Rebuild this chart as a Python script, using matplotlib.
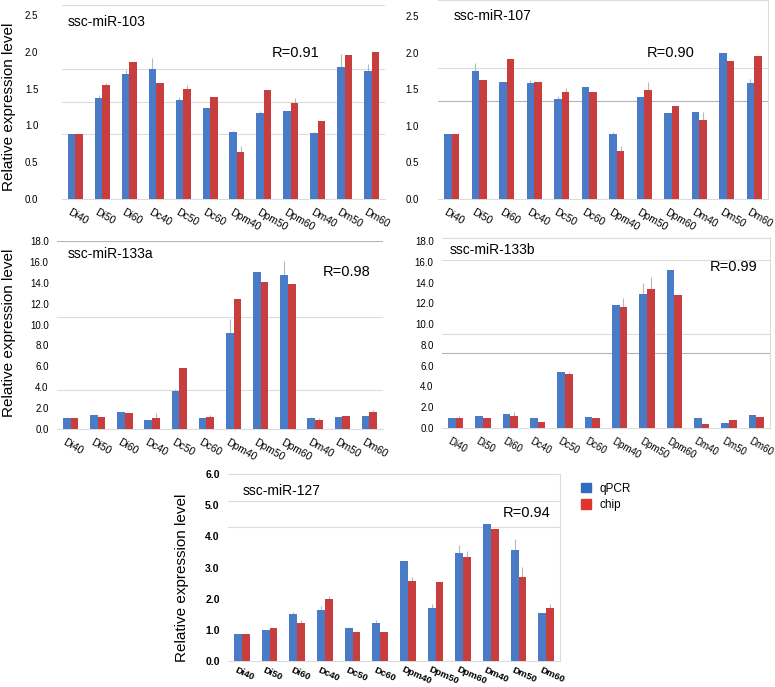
import numpy as np
import matplotlib
matplotlib.use("Agg")
import matplotlib.pyplot as plt
from matplotlib.patches import Patch

plt.rcParams['font.family'] = ['Liberation Sans', 'DejaVu Sans']

W, H = 775, 687

# sample groups (same for every panel)
groups = ['Di40', 'Di50', 'Di60', 'Dc40', 'Dc50', 'Dc60',
          'Dpm40', 'Dpm50', 'Dpm60', 'Dm40', 'Dm50', 'Dm60']

# ssc-miR-103
q103 = [0.88, 1.37, 1.70, 1.77, 1.35, 1.24, 0.91, 1.17, 1.20, 0.90, 1.79, 1.74]
c103 = [0.88, 1.55, 1.86, 1.58, 1.49, 1.39, 0.64, 1.48, 1.30, 1.06, 1.96, 2.00]
qe103 = [0.0, 0.04, 0.05, 0.14, 0.03, 0.0, 0.01, 0.03, 0.0, 0.01, 0.18, 0.10]
ce103 = [0.01, 0.03, 0.0, 0.0, 0.06, 0.0, 0.08, 0.0, 0.07, 0.0, 0.0, 0.0]

# ssc-miR-107
q107 = [0.89, 1.75, 1.60, 1.58, 1.37, 1.53, 0.89, 1.40, 1.18, 1.19, 1.99, 1.59]
c107 = [0.89, 1.63, 1.91, 1.60, 1.46, 1.46, 0.65, 1.49, 1.27, 1.08, 1.88, 1.96]
qe107 = [0.0, 0.11, 0.0, 0.04, 0.04, 0.0, 0.02, 0.0, 0.0, 0.0, 0.0, 0.05]
ce107 = [0.0, 0.0, 0.0, 0.0, 0.06, 0.0, 0.07, 0.11, 0.0, 0.11, 0.0, 0.0]

# ssc-miR-133a
q133a = [1.09, 1.34, 1.60, 0.86, 3.64, 1.09, 9.19, 15.00, 14.75, 1.09, 1.12, 1.28]
c133a = [1.09, 1.12, 1.56, 1.09, 5.81, 1.18, 12.45, 14.04, 13.85, 0.86, 1.21, 1.60]
qe133a = [0.05, 0.0, 0.0, 0.0, 0.16, 0.0, 1.34, 0.0, 1.34, 0.05, 0.0, 0.0]
ce133a = [0.05, 0.05, 0.0, 0.40, 0.0, 0.15, 0.0, 0.0, 0.0, 0.20, 0.0, 0.22]

# ssc-miR-133b
q133b = [0.93, 1.12, 1.31, 0.93, 5.42, 1.03, 11.86, 12.92, 15.22, 0.93, 0.45, 1.22]
c133b = [0.93, 0.93, 1.19, 0.54, 5.16, 0.93, 11.63, 13.37, 12.82, 0.35, 0.77, 1.03]
qe133b = [0.0, 0.0, 0.0, 0.0, 0.0, 0.0, 0.0, 1.03, 0.0, 0.0, 0.0, 0.0]
ce133b = [0.26, 0.0, 0.38, 0.0, 0.20, 0.0, 0.93, 1.15, 0.0, 0.0, 0.0, 0.0]

# ssc-miR-127
q127 = [0.88, 1.01, 1.50, 1.65, 1.06, 1.22, 3.20, 1.70, 3.45, 4.39, 3.55, 1.54]
c127 = [0.88, 1.06, 1.22, 2.00, 0.92, 0.93, 2.58, 2.52, 3.35, 4.25, 2.71, 1.71]
qe127 = [0.0, 0.0, 0.06, 0.11, 0.03, 0.11, 0.0, 0.12, 0.27, 0.0, 0.35, 0.0]
ce127 = [0.0, 0.0, 0.09, 0.09, 0.0, 0.0, 0.11, 0.0, 0.18, 0.0, 0.31, 0.11]

BLUE = '#4a7bc6'
RED = '#c83e3e'
GRID = '#dcdcdc'
DARK_GRID = '#b4b4b4'
ERR = '#b8b8b8'


def px(x, y):
    return x / W, 1 - y / H


def box(left, top, right, bottom):
    return [left / W, 1 - bottom / H, (right - left) / W, (bottom - top) / H]


def panel(rect, q, c, qe, ce, ymax, ticks, grid, frame=False, bold=False,
          tick_pad=5, xpad=6, xsize=7.5, rot=-30):
    ax = fig.add_axes(rect)
    x = np.arange(len(groups))
    w = 0.28
    ax.bar(x - w / 2, q, w, color=BLUE, zorder=3)
    ax.bar(x + w / 2, c, w, color=RED, zorder=3)
    z = np.zeros(len(groups))
    ax.errorbar(x - w / 2, q, yerr=[z, qe], fmt='none', ecolor=ERR,
                elinewidth=0.8, capsize=0, zorder=2)
    ax.errorbar(x + w / 2, c, yerr=[z, ce], fmt='none', ecolor=ERR,
                elinewidth=0.8, capsize=0, zorder=2)
    for g, col in grid:
        ax.axhline(g, color=col, lw=0.8, zorder=1)
    ax.set_xlim(-0.5, 11.5)
    ax.set_ylim(0, ymax)
    ax.set_yticks(ticks)
    ax.set_yticklabels(['%.1f' % t for t in ticks], fontsize=7.5 if bold else 7,
                       fontweight='bold' if bold else 'normal')
    ax.set_xticks(x - 0.15)
    ax.set_xticklabels(groups, rotation=rot, ha='left', va='top',
                       rotation_mode='anchor', fontsize=xsize,
                       fontweight='bold' if bold else 'normal')
    ax.tick_params(length=0, pad=tick_pad)
    ax.tick_params(axis='x', pad=xpad)
    for s in ['left', 'right', 'top']:
        ax.spines[s].set_visible(False)
    ax.spines['bottom'].set_color(GRID)
    if frame:
        ax.spines['top'].set_visible(True)
        ax.spines['right'].set_visible(True)
        ax.spines['top'].set_color(GRID)
        ax.spines['right'].set_color(GRID)
    return ax


fig = plt.figure(figsize=(W / 100, H / 100), dpi=100)

t1 = [0.0, 0.5, 1.0, 1.5, 2.0, 2.5]
t18 = [0, 2, 4, 6, 8, 10, 12, 14, 16, 18]
t6 = [0, 1, 2, 3, 4, 5, 6]

panel(box(62, 4, 385, 199), q103, c103, qe103, ce103, 2.65, t1,
      [(0.88, GRID), (1.32, GRID), (1.76, GRID), (2.64, GRID)], tick_pad=17)
panel(box(438, 0, 768, 199), q107, c107, qe107, ce107, 2.72, t1,
      [(1.34, DARK_GRID), (1.79, GRID)], frame=True, tick_pad=14)
panel(box(57, 241, 383, 429), q133a, c133a, qe133a, ce133a, 18, t18,
      [(3.73, GRID), (10.76, GRID), (18, DARK_GRID)], tick_pad=6)
panel(box(442, 238, 770, 428), q133b, c133b, qe133b, ce133b, 18.3, t18,
      [(7.2, DARK_GRID), (9.1, GRID), (16.2, GRID)], frame=True, tick_pad=6,
      xsize=7.0)
panel(box(228, 474, 560, 661), q127, c127, qe127, ce127, 6, t6,
      [(4.29, GRID), (5.14, GRID)], frame=True, bold=True, tick_pad=6,
      xpad=3, xsize=6.8, rot=-24)

# y-axis labels
for x, y in [(9, 107), (9, 333), (182, 578)]:
    fig.text(*px(x, y), 'Relative expression level', rotation=90,
             fontsize=11, ha='center', va='center')

# panel titles
titles = ['ssc-miR-103', 'ssc-miR-107', 'ssc-miR-133a', 'ssc-miR-133b', 'ssc-miR-127']
title_xy = [(68, 22), (454, 16), (68, 254), (450, 250), (243, 491)]
for t, (x, y) in zip(titles, title_xy):
    fig.text(*px(x, y), t, fontsize=10, ha='left', va='center')

# correlation coefficients
r_vals = ['R=0.91', 'R=0.90', 'R=0.98', 'R=0.99', 'R=0.94']
r_xy = [(272, 53), (647, 53), (323, 272), (710, 267), (503, 513)]
for t, (x, y) in zip(r_vals, r_xy):
    fig.text(*px(x, y), t, fontsize=10.5, ha='left', va='center')

# legend
handles = [Patch(color='#2f6cc0', label='qPCR'), Patch(color='#e0352a', label='chip')]
fig.legend(handles=handles, loc='upper left', bbox_to_anchor=px(570, 472),
           frameon=False, fontsize=8.5, handlelength=0.9, handleheight=0.9,
           handletextpad=0.7, labelspacing=0.35)

fig.savefig('out.png', dpi=100)
